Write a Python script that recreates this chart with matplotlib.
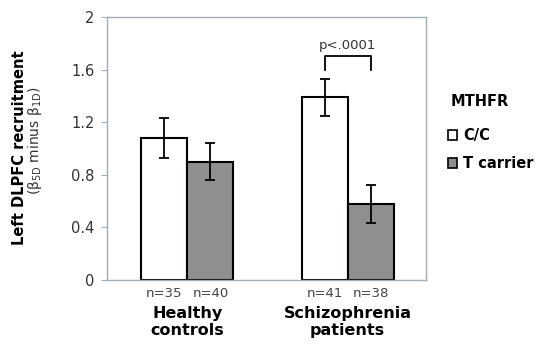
import matplotlib.pyplot as plt
import matplotlib.patches as mpatches
import numpy as np

groups = ["Healthy\ncontrols", "Schizophrenia\npatients"]
genotypes = ["C/C", "T carrier"]
cc_means = [1.08, 1.39]
cc_err = [0.155, 0.14]
t_means = [0.90, 0.58]
t_err = [0.14, 0.145]
cc_n = ["n=35", "n=41"]
t_n = ["n=40", "n=38"]
p_text = "p<.0001"

spine_col = "#a3adb6"
gray = "#8e9090"

fig = plt.figure(figsize=(5.45, 3.51), dpi=100)
ax = fig.add_axes([0.196, 0.2023, 0.586, 0.7493])

x = np.arange(len(groups))
w = 0.2875
b1 = ax.bar(x - w / 2, cc_means, w, color="white", edgecolor="black", linewidth=1.5, zorder=2)
b2 = ax.bar(x + w / 2, t_means, w, color=gray, edgecolor="black", linewidth=1.5, zorder=2)
ax.errorbar(x - w / 2, cc_means, yerr=cc_err, fmt="none", ecolor="black", elinewidth=1.3, capsize=3.5, capthick=1.3, zorder=3)
ax.errorbar(x + w / 2, t_means, yerr=t_err, fmt="none", ecolor="black", elinewidth=1.3, capsize=3.5, capthick=1.3, zorder=3)

ax.set_xlim(-0.503, 1.49)
ax.set_ylim(0, 2)
ax.set_yticks([0, 0.4, 0.8, 1.2, 1.6, 2])
ax.set_yticklabels(["0", "0.4", "0.8", "1.2", "1.6", "2"])
ax.set_xticks([])
ax.tick_params(axis="y", length=4, color=spine_col, labelsize=10.5, labelcolor="#333333", pad=5)
for s in ax.spines.values():
    s.set_color(spine_col)
    s.set_linewidth(1.0)

# sample sizes under bars
for i in range(len(groups)):
    ax.text(x[i] - w / 2, -0.1, cc_n[i], ha="center", va="center", fontsize=9.5, color="#444444")
    ax.text(x[i] + w / 2, -0.1, t_n[i], ha="center", va="center", fontsize=9.5, color="#444444")
    ax.text(x[i], -0.2, groups[i], ha="center", va="top", fontsize=11.5, fontweight="bold", linespacing=1.15)

# significance bracket
xl, xr = x[1] - w / 2, x[1] + w / 2
ax.plot([xl, xl, xr, xr], [1.60, 1.70, 1.70, 1.60], color="black", linewidth=1.3, clip_on=False)
ax.text((xl + xr) / 2, 1.73, p_text, ha="center", va="bottom", fontsize=9.5, color="#333333")

fig.text(0.036, 0.58, "Left DLPFC recruitment", rotation=90, ha="center", va="center", fontsize=10.5, fontweight="bold")
fig.text(0.064, 0.60, r"(β$_{\mathregular{5D}}$ minus β$_{\mathregular{1D}}$)", rotation=90, ha="center", va="center", fontsize=10, color="#333333")

fig.text(0.826, 0.712, "MTHFR", ha="left", va="center", fontsize=10.5, fontweight="bold")
handles = [mpatches.Patch(facecolor="white", edgecolor="black", linewidth=1.2),
           mpatches.Patch(facecolor=gray, edgecolor="black", linewidth=1.2)]
leg = fig.legend(handles, genotypes, loc="upper left", bbox_to_anchor=(0.822, 0.636), frameon=False,
                 handlelength=0.65, handleheight=0.65, handletextpad=0.4,
                 labelspacing=0.9, borderpad=0, borderaxespad=0,
                 prop={"weight": "bold", "size": 10.5})

fig.savefig("out.png", dpi=100)
